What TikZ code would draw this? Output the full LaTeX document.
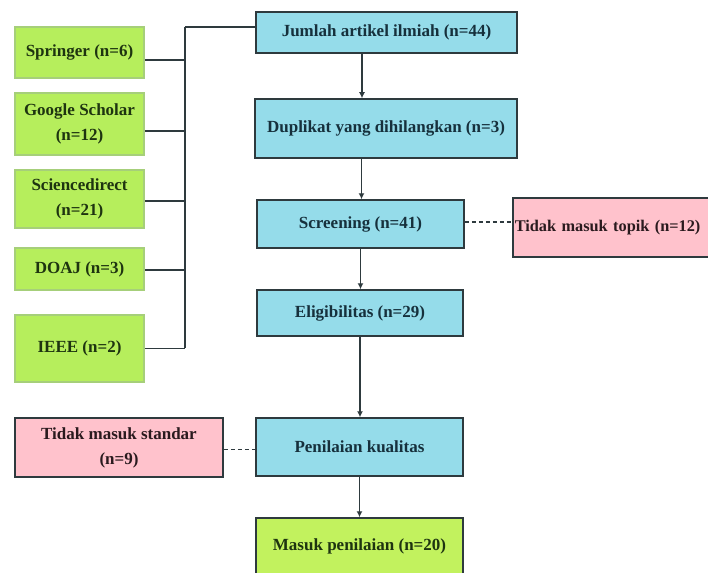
\documentclass[tikz,border=0pt]{standalone}
\usepackage{fontspec}
\setmainfont{Liberation Serif}[BoldFont={Liberation Serif Bold}]
\usetikzlibrary{arrows.meta}
\definecolor{bluefill}{HTML}{95DCEA}
\definecolor{greenfill}{HTML}{B6EE5C}
\definecolor{greenfilltwo}{HTML}{C2F25E}
\definecolor{greenline}{HTML}{A6CF7A}
\definecolor{pinkfill}{HTML}{FFC2CC}
\definecolor{darkline}{HTML}{2E3A3E}
\definecolor{bluetext}{HTML}{16303C}
\definecolor{greentext}{HTML}{1E3410}
\definecolor{pinktext}{HTML}{2A1A1E}
\tikzset{
  box/.style={draw, line width=1.5pt, inner sep=0pt, align=center,
    font=\rmfamily\bfseries\fontsize{17}{25}\selectfont},
  srcbox/.style={box, fill=greenfill, draw=greenline, text=greentext, minimum width=129pt},
  stagebox/.style={box, fill=bluefill, draw=darkline, text=bluetext},
  outbox/.style={box, fill=pinkfill, draw=darkline, text=pinktext},
  finalbox/.style={box, fill=greenfilltwo, draw=darkline, text=greentext},
  link/.style={draw=darkline, line width=1.8pt},
  flow/.style={link, -{Latex[length=6pt,width=6pt]}},
  dotlink/.style={draw=darkline, line width=1.8pt, dash pattern=on 4pt off 3pt}
}
\begin{document}
\begin{tikzpicture}[x={(1pt,0)}, y={(0,-1pt)}]
\useasboundingbox (0,0) rectangle (708,572);
\clip (0,0) rectangle (708,572);
\fill[white] (0,0) rectangle (708,572);

% sources
\node[srcbox, minimum height=51pt] (spr) at (79.5,52.5) {Springer (n=6)};
\node[srcbox, minimum height=62pt] (gs) at (79.5,124) {Google Scholar\\(n=12)};
\node[srcbox, minimum height=58pt] (sd) at (79.5,199) {Sciencedirect\\(n=21)};
\node[srcbox, minimum height=42pt] (doaj) at (79.5,269) {DOAJ (n=3)};
\node[srcbox, minimum height=67pt] (ieee) at (79.5,348.5) {IEEE (n=2)};

% stages
\node[stagebox, minimum width=261pt, minimum height=41pt] (jum) at (386.5,32.5) {Jumlah artikel ilmiah (n=44)};
\node[stagebox, minimum width=262pt, minimum height=59pt] (dup) at (386,128.5) {Duplikat yang dihilangkan (n=3)};
\node[stagebox, minimum width=207pt, minimum height=48pt] (scr) at (360.5,224) {Screening (n=41)};
\node[stagebox, minimum width=206pt, minimum height=46pt] (elig) at (360,313) {Eligibilitas (n=29)};
\node[stagebox, minimum width=207pt, minimum height=58pt] (pen) at (359.5,447) {Penilaian kualitas};
\node[finalbox, minimum width=207pt, minimum height=56pt] (mp) at (359.5,546) {Masuk penilaian (n=20)};

% excluded
\node[outbox, anchor=west, minimum height=59pt, minimum width=230pt, text width=226pt, align=left,
  font=\rmfamily\bfseries\fontsize{16.3}{25}\selectfont] (tmt) at (512,227.5) {Tidak masuk topik (n=12)};
\node[outbox, minimum width=208pt, minimum height=59pt] (tms) at (119,447.5) {Tidak masuk standar\\(n=9)};

% spine joining the sources
\coordinate (spinetop) at (185,27);
\coordinate (spinebot) at (185,348);
\draw[link] (spinetop) -- (spinebot);
\draw[link] (spinetop) -- (spinetop -| jum.west);
\draw[link] ([yshift=-7.5pt]spr.east) -- ([yshift=-7.5pt]spr.east -| spinetop);
\draw[link] ([yshift=-7pt]gs.east) -- ([yshift=-7pt]gs.east -| spinetop);
\draw[link] ([yshift=-2pt]sd.east) -- ([yshift=-2pt]sd.east -| spinetop);
\draw[link] ([yshift=-1pt]doaj.east) -- ([yshift=-1pt]doaj.east -| spinetop);
\draw[link] (ieee.east) -- (ieee.east -| spinetop);

% main flow
\draw[flow] ([xshift=-24.5pt]jum.south) -- ([xshift=-24.5pt]jum.south |- dup.north);
\draw[flow] ([xshift=-24.5pt]dup.south) -- ([xshift=-24.5pt]dup.south |- scr.north);
\draw[flow] (scr.south) -- (scr.south |- elig.north);
\draw[flow] (elig.south) -- (elig.south |- pen.north);
\draw[flow] (pen.south) -- (pen.south |- mp.north);

% exclusions
\draw[dotlink] ([yshift=2pt]scr.east) -- ([yshift=2pt]scr.east -| tmt.west);
\draw[dotlink] ([yshift=-2pt]tms.east) -- ([yshift=-2pt]tms.east -| pen.west);
\end{tikzpicture}
\end{document}
